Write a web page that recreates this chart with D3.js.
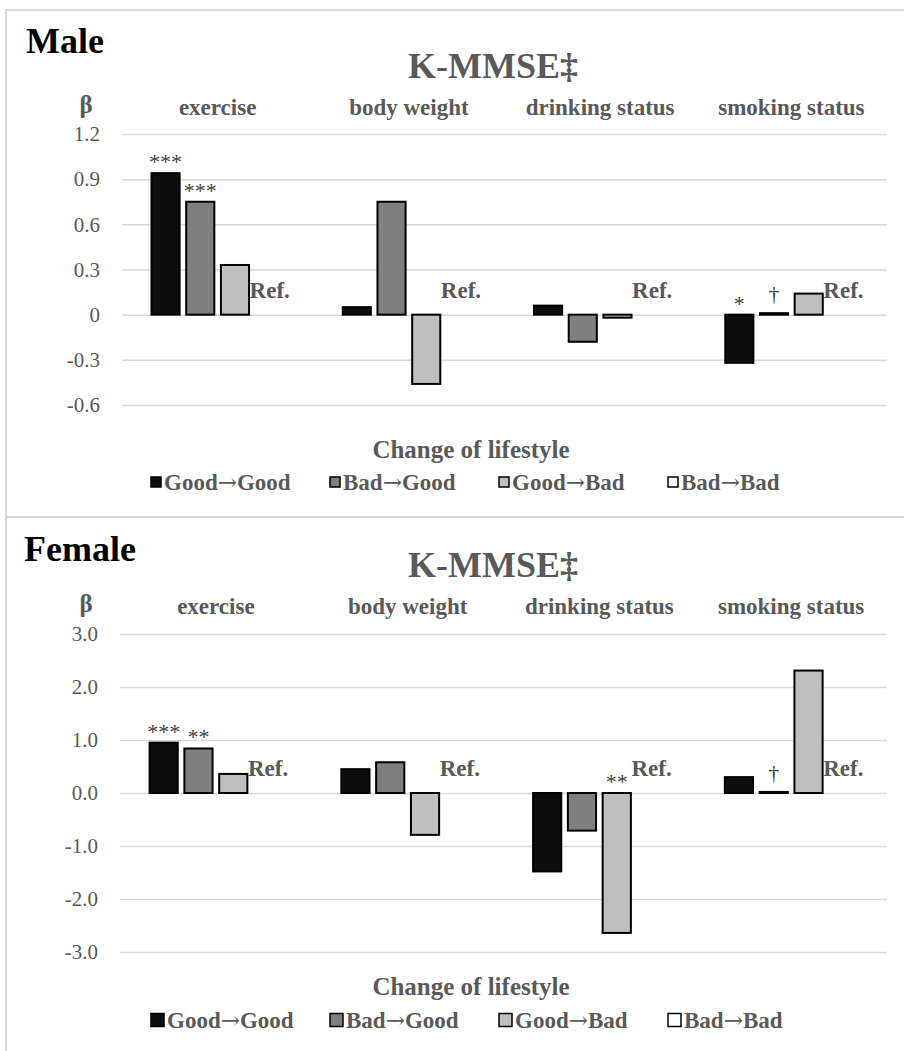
<!DOCTYPE html>
<html>
<head>
<meta charset="utf-8">
<script src="https://cdn.jsdelivr.net/npm/d3@7"></script>
<style>
  body { margin: 0; background: #fff; }
  svg text { font-family: "Liberation Serif", "Times New Roman", serif; }
</style>
</head>
<body>
<div id="chart"></div>
<script>
// categories and series
var categories = ['exercise', 'body weight', 'drinking status', 'smoking status'];
var series = ['Good→Good', 'Bad→Good', 'Good→Bad', 'Bad→Bad'];

// male beta values, one array per series (in category order)
var maleGoodGood = [0.94, 0.05, 0.06, -0.32];
var maleBadGood  = [0.75, 0.75, -0.18, 0.01];
var maleGoodBad  = [0.33, -0.46, -0.02, 0.14];
var maleBadBad   = [0, 0, 0, 0];
var maleSigGoodGood = ['***', '', '', '*'];
var maleSigBadGood  = ['***', '', '', '†'];
var maleSigGoodBad  = ['', '', '', ''];
var maleTicks = [-0.6, -0.3, 0, 0.3, 0.6, 0.9, 1.2];
var maleTickLabels = ['-0.6', '-0.3', '0', '0.3', '0.6', '0.9', '1.2'];

// female beta values
var femaleGoodGood = [0.95, 0.45, -1.48, 0.30];
var femaleBadGood  = [0.84, 0.58, -0.71, 0.02];
var femaleGoodBad  = [0.36, -0.79, -2.64, 2.31];
var femaleBadBad   = [0, 0, 0, 0];
var femaleSigGoodGood = ['***', '', '', ''];
var femaleSigBadGood  = ['**', '', '', '†'];
var femaleSigGoodBad  = ['', '', '**', ''];
var femaleTicks = [-3, -2, -1, 0, 1, 2, 3];
var femaleTickLabels = ['-3.0', '-2.0', '-1.0', '0.0', '1.0', '2.0', '3.0'];

var fills = ['#0d0d0d', '#7f7f7f', '#bfbfbf', '#ffffff'];
var grey = '#595959';

var svg = d3.select('#chart').append('svg')
    .attr('width', 904).attr('height', 1051);

function panel(o){
  var g = svg.append('g');
  // frame
  g.append('rect').attr('x', 6).attr('y', o.top).attr('width', 920).attr('height', o.frameH)
    .attr('fill', 'none').attr('stroke', '#d9d9d9').attr('stroke-width', 2);

  var y = d3.scaleLinear().domain(o.domain).range(o.yRange);
  var x0 = d3.scaleBand().domain(categories).range(o.xRange);
  var x1 = d3.scaleBand().domain(series).range([0, x0.bandwidth()])
      .paddingInner(0.19).paddingOuter(0.85);

  // gridlines + tick labels
  var ax = g.append('g').attr('transform', 'translate(' + o.xRange[0] + ',0)')
    .call(d3.axisLeft(y).tickValues(o.ticks)
      .tickFormat(function(d, i){ return o.tickLabels[i]; })
      .tickSize(-(o.xRange[1] - o.xRange[0])).tickPadding(22));
  ax.attr('font-family', null);
  ax.select('.domain').remove();
  ax.selectAll('line').attr('stroke', '#d9d9d9').attr('stroke-width', 1.5);
  ax.selectAll('text').attr('fill', grey).style('font-size', '21px')
    .style('font-family', '"Liberation Serif", serif');

  // titles
  g.append('text').attr('x', o.nameX).attr('y', o.nameY).text(o.name)
    .style('font-size', '36px').style('font-weight', 'bold').attr('fill', '#000');
  g.append('text').attr('x', 493).attr('y', o.titleY).attr('text-anchor', 'middle')
    .text('K-MMSE‡').style('font-size', '36px').style('font-weight', 'bold').attr('fill', grey);
  g.append('text').attr('x', 86).attr('y', o.catY - 2).attr('text-anchor', 'middle')
    .text('β').style('font-size', '25px').style('font-weight', 'bold').attr('fill', grey);
  g.selectAll('.cat').data(categories).enter().append('text')
    .attr('x', function(d){ return x0(d) + x0.bandwidth() / 2; })
    .attr('y', o.catY).attr('text-anchor', 'middle').text(function(d){ return d; })
    .style('font-size', '23px').style('font-weight', 'bold').attr('fill', grey);

  // bars
  var rows = [];
  categories.forEach(function(c, i){
    series.forEach(function(s, j){
      rows.push({cat: c, s: s, j: j, v: o.values[j][i], sig: j < 3 ? o.sigs[j][i] : ''});
    });
  });
  g.selectAll('.bar').data(rows).enter().append('rect')
    .attr('x', function(d){ return x0(d.cat) + x1(d.s); })
    .attr('y', function(d){ return y(Math.max(d.v, 0)); })
    .attr('width', x1.bandwidth())
    .attr('height', function(d){ return Math.abs(y(d.v) - y(0)); })
    .attr('fill', function(d){ return fills[d.j]; })
    .attr('stroke', function(d){ return d.j == 3 ? '#a6a6a6' : '#000'; })
    .attr('stroke-width', 2);

  // significance marks
  g.selectAll('.sig').data(rows.filter(function(d){ return d.sig; })).enter().append('text')
    .attr('x', function(d){ return x0(d.cat) + x1(d.s) + x1.bandwidth() / 2; })
    .attr('y', function(d){ return y(Math.max(d.v, 0)) - (d.sig == '†' ? 12 : 4); })
    .attr('text-anchor', 'middle').text(function(d){ return d.sig; })
    .style('font-size', '22px').attr('fill', '#404040');

  // Ref. labels
  g.selectAll('.ref').data(rows.filter(function(d){ return d.j == 3; })).enter().append('text')
    .attr('x', function(d){ return x0(d.cat) + x1(d.s) + x1.bandwidth() / 2; })
    .attr('y', y(0) - 17).attr('text-anchor', 'middle').text('Ref.')
    .style('font-size', '23px').style('font-weight', 'bold').attr('fill', grey);

  // axis title + legend
  g.append('text').attr('x', 471).attr('y', o.changeY).attr('text-anchor', 'middle')
    .text('Change of lifestyle').style('font-size', '25px').style('font-weight', 'bold').attr('fill', grey);
  var legX = [151, 330, 499, 668];
  var lg = g.selectAll('.leg').data(series).enter().append('g')
    .attr('transform', function(d, i){ return 'translate(' + legX[i] + ',' + o.legY + ')'; });
  lg.append('rect').attr('x', 0).attr('y', -o.sq / 2 - 8).attr('width', o.sq).attr('height', o.sq)
    .attr('fill', function(d, i){ return fills[i]; }).attr('stroke', '#000').attr('stroke-width', 1.5);
  // arrow drawn in a font whose glyph is long and sits mid-height
  var lt = lg.append('text').attr('x', o.sq + 3).attr('y', 0)
    .style('font-size', '23px').style('font-weight', 'bold').attr('fill', grey);
  lt.each(function(d){
    var parts = d.split('→'), t = d3.select(this);
    t.append('tspan').text(parts[0]);
    t.append('tspan').text('→').style('font-family', '"DejaVu Serif", serif')
      .style('font-weight', 'normal').style('font-size', '23px');
    t.append('tspan').text(parts[1]);
  });
}

panel({
  name: 'Male', nameX: 26, nameY: 53, titleY: 78, catY: 115, top: 10, frameH: 507,
  domain: [-0.6, 1.2], yRange: [405, 134], xRange: [122, 887],
  ticks: maleTicks, tickLabels: maleTickLabels,
  values: [maleGoodGood, maleBadGood, maleGoodBad, maleBadBad],
  sigs: [maleSigGoodGood, maleSigBadGood, maleSigGoodBad],
  changeY: 458, legY: 490, sq: 10
});
panel({
  name: 'Female', nameX: 24, nameY: 561, titleY: 577, catY: 614, top: 517, frameH: 560,
  domain: [-3, 3], yRange: [952, 634], xRange: [120, 887],
  ticks: femaleTicks, tickLabels: femaleTickLabels,
  values: [femaleGoodGood, femaleBadGood, femaleGoodBad, femaleBadBad],
  sigs: [femaleSigGoodGood, femaleSigBadGood, femaleSigGoodBad],
  changeY: 995, legY: 1028, sq: 13
});
</script>
</body>
</html>
